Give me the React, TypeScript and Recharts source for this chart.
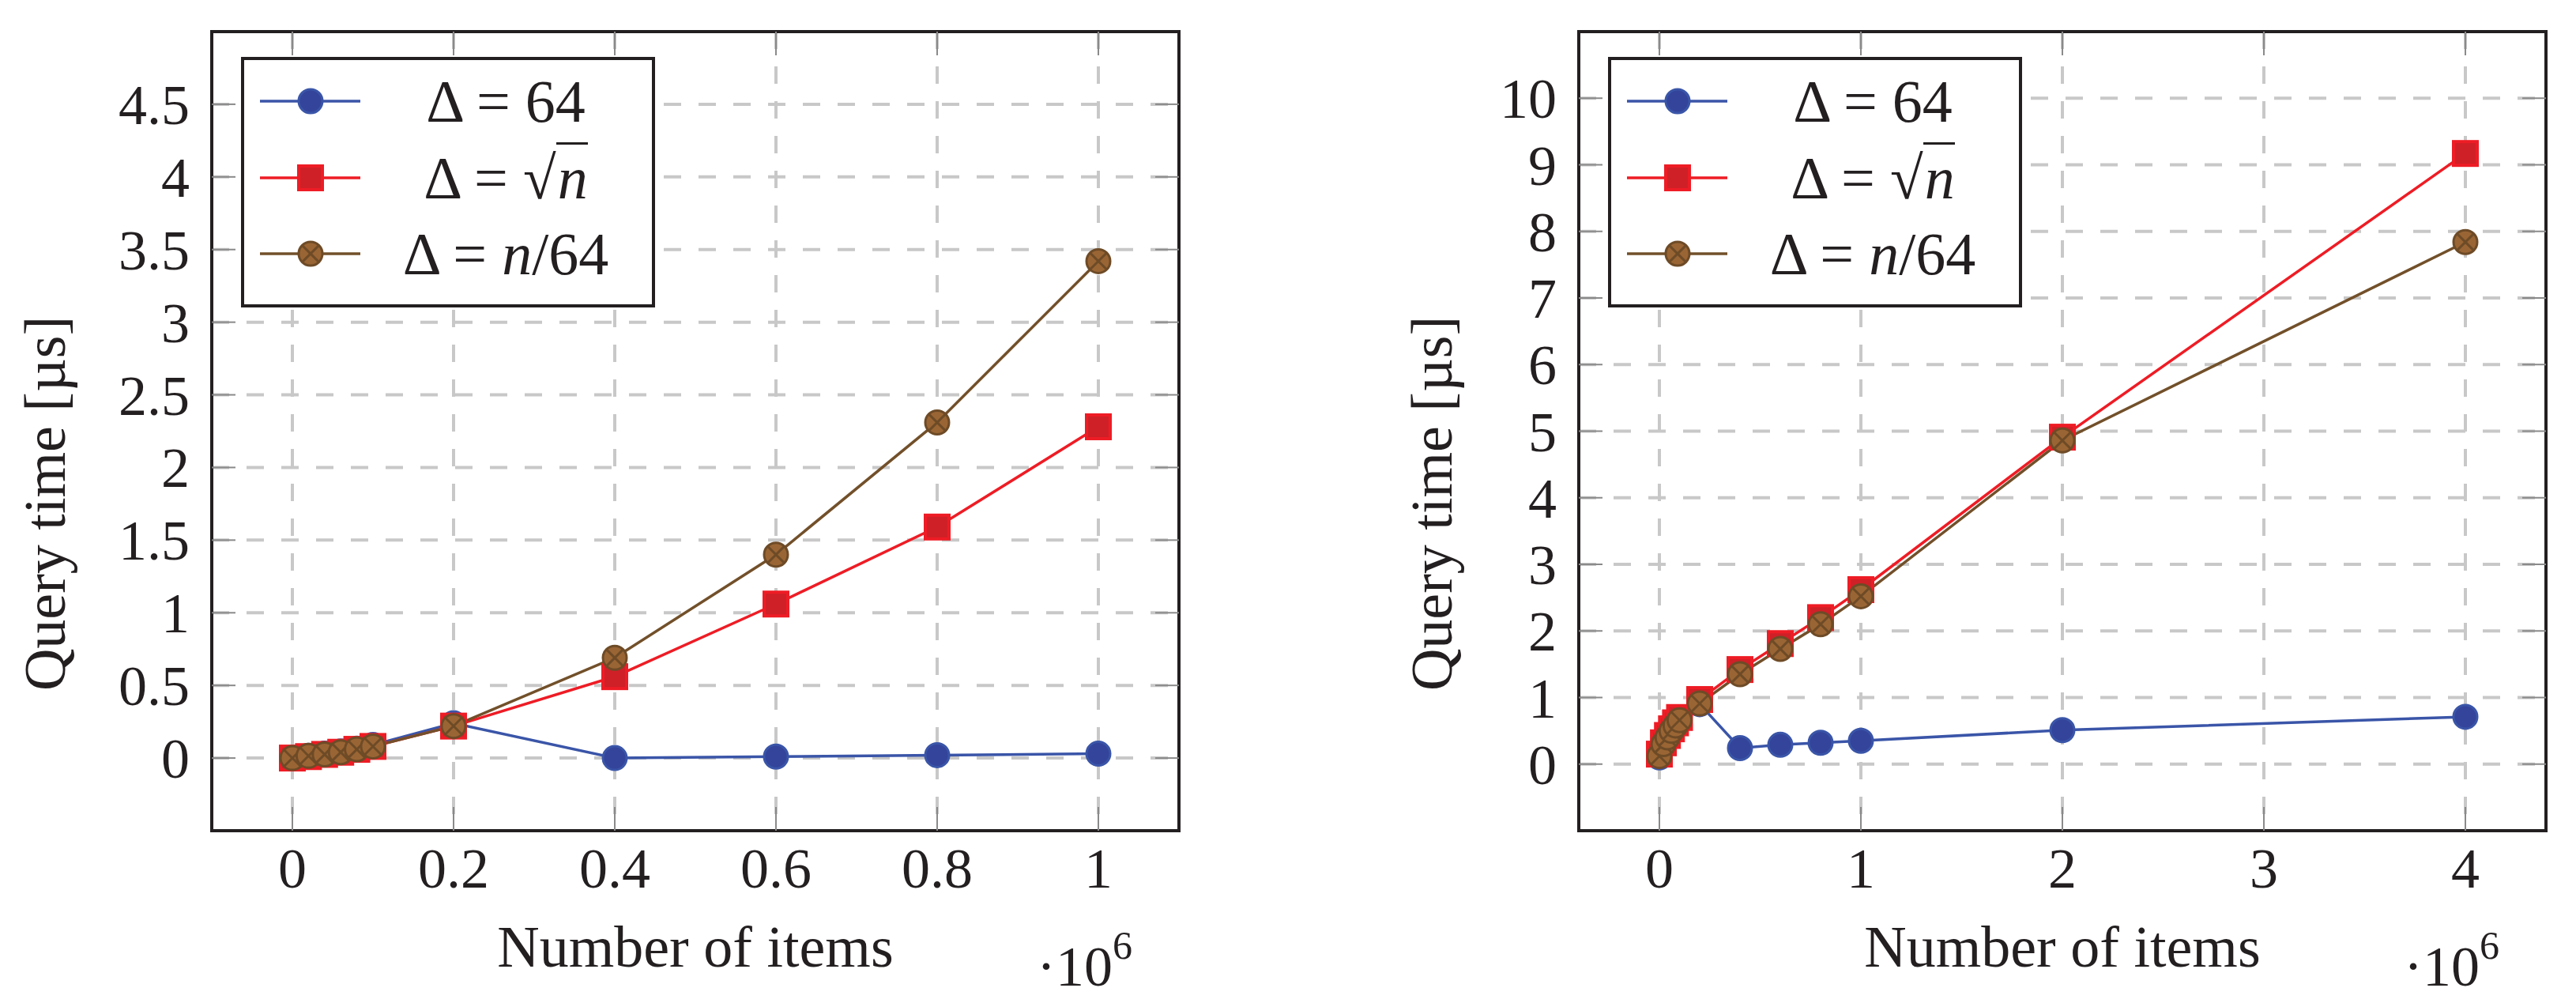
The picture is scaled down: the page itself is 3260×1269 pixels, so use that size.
import React from 'react';
import {
  CartesianGrid,
  Legend,
  Line,
  LineChart,
  ReferenceArea,
  XAxis,
  YAxis,
} from 'recharts';

// x values are in units of 10^6 items
const leftItems = [0, 0.02, 0.04, 0.06, 0.08, 0.1, 0.2, 0.4, 0.6, 0.8, 1];
const leftDelta64 = [0, 0.015, 0.03, 0.045, 0.065, 0.09, 0.24, 0.0, 0.01, 0.02, 0.03];
const leftDeltaSqrt = [0, 0.01, 0.025, 0.04, 0.06, 0.08, 0.22, 0.56, 1.06, 1.59, 2.28];
const leftDeltaN64 = [0, 0.015, 0.025, 0.04, 0.06, 0.08, 0.22, 0.69, 1.4, 2.31, 3.42];

const rightItems = [0, 0.02, 0.04, 0.06, 0.08, 0.1, 0.2, 0.4, 0.6, 0.8, 1, 2, 4];
const rightDelta64 = [0.1, 0.28, 0.38, 0.48, 0.56, 0.64, 0.9, 0.24, 0.29, 0.32, 0.35, 0.51, 0.71];
const rightDeltaSqrt = [0.15, 0.32, 0.43, 0.53, 0.62, 0.7, 0.97, 1.42, 1.81, 2.2, 2.62, 4.91, 9.17];
const rightDeltaN64 = [0.12, 0.3, 0.4, 0.5, 0.58, 0.66, 0.91, 1.35, 1.73, 2.1, 2.52, 4.86, 7.84];

const leftXTicks = [0, 0.2, 0.4, 0.6, 0.8, 1];
const leftYTicks = [0, 0.5, 1, 1.5, 2, 2.5, 3, 3.5, 4, 4.5];
const rightXTicks = [0, 1, 2, 3, 4];
const rightYTicks = [0, 1, 2, 3, 4, 5, 6, 7, 8, 9, 10];

const FONT = '"Liberation Serif", "Times New Roman", serif';
const TEXT = '#231f20';

const series = [
  { key: 'd64', shape: 'circle', stroke: '#3a55a8' },
  { key: 'dsqrt', shape: 'square', stroke: '#ee1c25' },
  { key: 'dn64', shape: 'otimes', stroke: '#72502a' },
];

const buildRows = (xs, a, b, c) =>
  xs.map((x, i) => ({ x, d64: a[i], dsqrt: b[i], dn64: c[i] }));

const leftData = buildRows(leftItems, leftDelta64, leftDeltaSqrt, leftDeltaN64);
const rightData = buildRows(rightItems, rightDelta64, rightDeltaSqrt, rightDeltaN64);

const Marker = ({ shape, cx, cy }) => {
  if (cx == null || cy == null) return null;
  if (shape === 'circle') {
    return <circle cx={cx} cy={cy} r={15} fill="#33449a" stroke="#3a55a8" strokeWidth={3} />;
  }
  if (shape === 'square') {
    return (
      <rect x={cx - 15} y={cy - 15} width={30} height={30} fill="#cf2027" stroke="#ee1c25" strokeWidth={4} />
    );
  }
  const d = 15 * 0.7071;
  return (
    <g>
      <circle cx={cx} cy={cy} r={15} fill="#9a6534" stroke="#6e4b27" strokeWidth={3} />
      <line x1={cx - d} y1={cy - d} x2={cx + d} y2={cy + d} stroke="#6e4b27" strokeWidth={3} />
      <line x1={cx - d} y1={cy + d} x2={cx + d} y2={cy - d} stroke="#6e4b27" strokeWidth={3} />
    </g>
  );
};

const dotFor = (shape) => (props) => (
  <Marker key={`${shape}-${props.index}`} shape={shape} cx={props.cx} cy={props.cy} />
);

const Swatch = ({ shape, stroke }) => (
  <svg width={160} height={60} style={{ display: 'block' }}>
    <line x1={24} y1={30} x2={151} y2={30} stroke={stroke} strokeWidth={3.5} />
    <Marker shape={shape} cx={88} cy={30} />
  </svg>
);

const legendLabels = [
  <span key="a">Δ = 64</span>,
  <span key="b">
    Δ = √<span style={{ fontStyle: 'italic', borderTop: `3px solid ${TEXT}`, paddingLeft: 2 }}>n</span>
  </span>,
  <span key="c">
    Δ = <span style={{ fontStyle: 'italic' }}>n</span>/64
  </span>,
];

const LegendBox = () => (
  <div
    style={{
      width: 524,
      height: 317,
      boxSizing: 'border-box',
      border: `4px solid ${TEXT}`,
      background: '#fff',
      position: 'relative',
      fontFamily: FONT,
      color: TEXT,
    }}
  >
    {series.map((s, i) => (
      <div
        key={s.key}
        style={{
          position: 'absolute',
          left: -4,
          top: 56 + i * 96.5 - 30 - 4,
          width: 524,
          height: 60,
          display: 'flex',
          alignItems: 'center',
        }}
      >
        <Swatch shape={s.shape} stroke={s.stroke} />
        <div style={{ width: 350, textAlign: 'center', fontSize: 76, lineHeight: '60px' }}>
          {legendLabels[i]}
        </div>
      </div>
    ))}
  </div>
);

const QueryChart = ({ data, xDomain, yDomain, xTicks, yTicks, plotLeft, labelX }) => {
  const W = 1630;
  const H = 1269;
  const plotRight = plotLeft + 1224;
  const plotTop = 40;
  const plotBottom = 1051;

  const XTick = ({ x, payload }) => (
    <g>
      <line x1={x} x2={x} y1={plotBottom - 30} y2={plotBottom} stroke="#8a8a8a" strokeWidth={2} />
      <line x1={x} x2={x} y1={plotTop} y2={plotTop + 30} stroke="#8a8a8a" strokeWidth={2} />
      <text x={x} y={plotBottom + 72} textAnchor="middle" fontFamily={FONT} fontSize={72} fill={TEXT}>
        {String(payload.value)}
      </text>
    </g>
  );

  const YTick = ({ y, payload }) => (
    <g>
      <line x1={plotLeft} x2={plotLeft + 30} y1={y} y2={y} stroke="#8a8a8a" strokeWidth={2} />
      <line x1={plotRight - 30} x2={plotRight} y1={y} y2={y} stroke="#8a8a8a" strokeWidth={2} />
      <text x={plotLeft - 28} y={y} dy={25} textAnchor="end" fontFamily={FONT} fontSize={72} fill={TEXT}>
        {String(payload.value)}
      </text>
    </g>
  );

  const cx = (plotLeft + plotRight) / 2;

  return (
    <LineChart
      width={W}
      height={H}
      data={data}
      margin={{ top: plotTop, right: W - plotRight, left: plotLeft - 200, bottom: H - plotBottom - 100 }}
    >
      <CartesianGrid stroke="#c8c8c8" strokeWidth={4} strokeDasharray="22 22" />
      <XAxis
        dataKey="x"
        type="number"
        domain={xDomain}
        ticks={xTicks}
        allowDataOverflow
        height={100}
        axisLine={false}
        tickLine={false}
        tick={<XTick />}
        label={{
          content: () => (
            <g>
              <text x={cx} y={1223} textAnchor="middle" fontFamily={FONT} fontSize={74} fill={TEXT}>
                Number of items
              </text>
              <text x={plotRight - 180} y={1247} fontFamily={FONT} fontSize={72} fill={TEXT}>
                ·10
                <tspan dy={-34} fontSize={50}>6</tspan>
              </text>
            </g>
          ),
        }}
      />
      <YAxis
        type="number"
        domain={yDomain}
        ticks={yTicks}
        allowDataOverflow
        width={200}
        axisLine={false}
        tickLine={false}
        tick={<YTick />}
        label={{
          content: () => (
            <text
              x={labelX}
              y={637}
              transform={`rotate(-90 ${labelX} 637)`}
              textAnchor="middle"
              dominantBaseline="central"
              fontFamily={FONT}
              fontSize={74}
              fill={TEXT}
            >
              Query time [µs]
            </text>
          ),
        }}
      />
      <ReferenceArea
        x1={xDomain[0]}
        x2={xDomain[1]}
        y1={yDomain[0]}
        y2={yDomain[1]}
        fill="none"
        fillOpacity={0}
        stroke={TEXT}
        strokeWidth={4}
        ifOverflow="visible"
      />
      {series.map((s) => (
        <Line
          key={s.key}
          type="linear"
          dataKey={s.key}
          stroke={s.stroke}
          strokeWidth={3.5}
          dot={dotFor(s.shape)}
          activeDot={false}
          isAnimationActive={false}
        />
      ))}
      <Legend
        layout="horizontal"
        verticalAlign="middle"
        align="center"
        content={() => <LegendBox />}
        wrapperStyle={{ left: plotLeft + 37, top: 72, width: 524, height: 317 }}
      />
    </LineChart>
  );
};

export default function App() {
  return (
    <div
      style={{
        position: 'absolute',
        left: 0,
        top: 0,
        width: 3260,
        height: 1269,
        background: '#fff',
        fontFamily: FONT,
      }}
    >
      <div style={{ position: 'absolute', left: 0, top: 0 }}>
        <QueryChart
          data={leftData}
          xDomain={[-0.1, 1.1]}
          yDomain={[-0.5, 5]}
          xTicks={leftXTicks}
          yTicks={leftYTicks}
          plotLeft={268}
          labelX={57}
        />
      </div>
      <div style={{ position: 'absolute', left: 1630, top: 0 }}>
        <QueryChart
          data={rightData}
          xDomain={[-0.4, 4.4]}
          yDomain={[-1, 11]}
          xTicks={rightXTicks}
          yTicks={rightYTicks}
          plotLeft={368}
          labelX={182}
        />
      </div>
    </div>
  );
}
